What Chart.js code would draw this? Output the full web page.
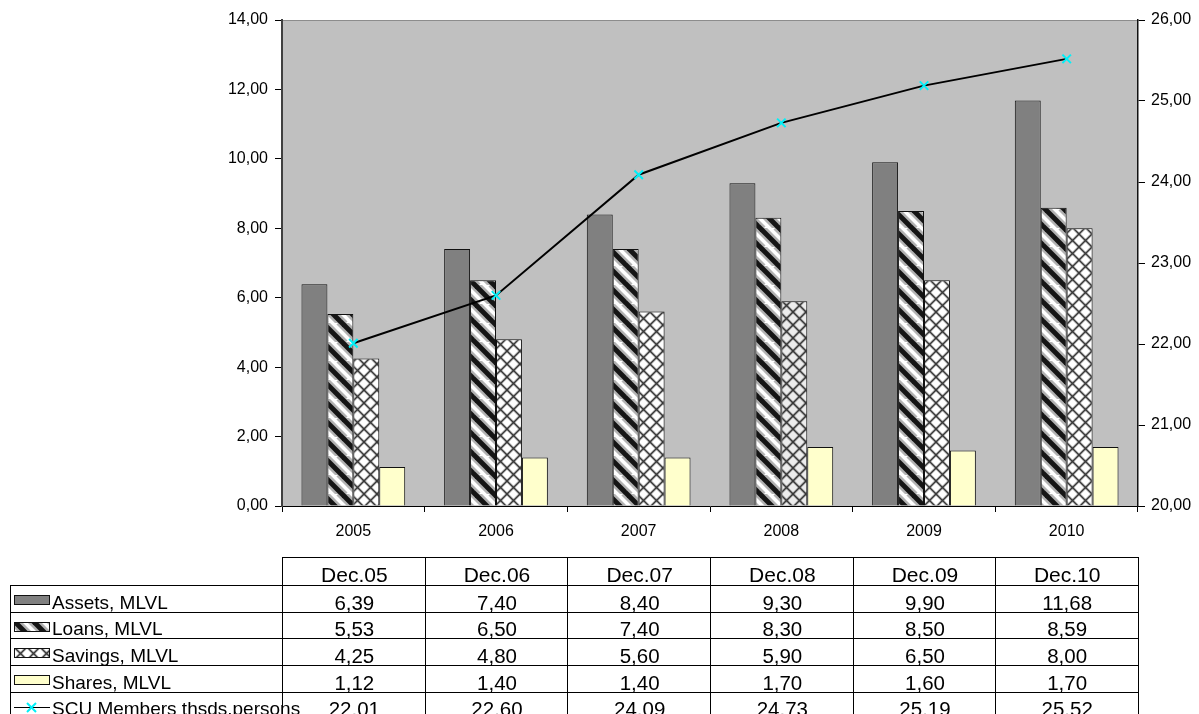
<!DOCTYPE html>
<html>
<head>
<meta charset="utf-8">
<script src="https://cdn.jsdelivr.net/npm/chart.js@4.4.1/dist/chart.umd.min.js"></script>
<style>
  html, body { margin: 0; padding: 0; background: #fff; }
  body { width: 1199px; height: 714px; overflow: hidden; position: relative;
         font-family: 'Liberation Sans', Arial, sans-serif; }
  #wrap { position: absolute; left: 0; top: 0; width: 1199px; height: 550px; }
  #table { position: absolute; left: 0; top: 0; width: 1199px; height: 714px; }
  .cell { position: absolute; box-sizing: border-box; border-left: 1px solid #000; border-top: 1px solid #000;
          display: flex; align-items: flex-end; justify-content: center;
          font-size: 20.5px; line-height: 20px; color: #000; white-space: nowrap; }
  .cell.last { border-right: 1px solid #000; }
  .cell.head { font-size: 21px; }
  .label { justify-content: flex-start; font-size: 19px; }
  .swatch { position: absolute; left: 3px; }
  .label span { position: absolute; left: 41px; bottom: 0; }
</style>
</head>
<body>
<div id="wrap"><canvas id="c" width="1199" height="550"></canvas></div>
<div id="table"></div>
<script>
// ---- data ----
const categories   = ['2005', '2006', '2007', '2008', '2009', '2010'];
const periodLabels = ['Dec.05', 'Dec.06', 'Dec.07', 'Dec.08', 'Dec.09', 'Dec.10'];
const seriesNames  = ['Assets, MLVL', 'Loans, MLVL', 'Savings, MLVL', 'Shares, MLVL', 'SCU Members thsds.persons'];
const assets   = [6.39, 7.40, 8.40, 9.30, 9.90, 11.68];
const loans    = [5.53, 6.50, 7.40, 8.30, 8.50, 8.59];
const savings  = [4.25, 4.80, 5.60, 5.90, 6.50, 8.00];
const shares   = [1.12, 1.40, 1.40, 1.70, 1.60, 1.70];
const members  = [22.01, 22.60, 24.09, 24.73, 25.19, 25.52];
const leftAxis  = { min: 0,  max: 14, step: 2 };
const rightAxis = { min: 20, max: 26, step: 1 };

const FONT = "'Liberation Sans', Arial, sans-serif";
const commaFmt = v => Number(v).toFixed(2).replace('.', ',');
const dotFmt   = v => Number(v).toFixed(2);

// ---- fill patterns ----
function makeTile(size, draw) {
  const t = document.createElement('canvas');
  t.width = t.height = size;
  draw(t.getContext('2d'), size);
  return t;
}
// wide downward diagonal stripes
function stripeTile(P) {
  return makeTile(P, (g) => {
    g.fillStyle = '#fff'; g.fillRect(0, 0, P, P);
    for (const [w, c] of [[10, 'rgba(0,0,0,0.3)'], [5, '#151515']]) {
      g.strokeStyle = c; g.lineWidth = w;
      for (const o of [-P, 0, P]) {
        g.beginPath(); g.moveTo(o - 2, -2); g.lineTo(o + P + 2, P + 2); g.stroke();
      }
    }
  });
}
// diagonal crosshatch
function crossTile(P, bg) {
  return makeTile(P, (g) => {
    g.fillStyle = bg; g.fillRect(0, 0, P, P);
    for (const [w, c] of [[3, 'rgba(0,0,0,0.22)'], [1.3, '#383838']]) {
      g.strokeStyle = c; g.lineWidth = w;
      for (const o of [-P, 0, P]) {
        g.beginPath(); g.moveTo(o - 2, -2); g.lineTo(o + P + 2, P + 2); g.stroke();
        g.beginPath(); g.moveTo(o + P + 2, -2); g.lineTo(o - 2, P + 2); g.stroke();
      }
    }
  });
}
const canvas = document.getElementById('c');
const ctx = canvas.getContext('2d');
const stripeT = stripeTile(19);
const crossT = crossTile(13, '#fff');
const crossLightT = crossTile(13, '#ececec');
const stripePat = ctx.createPattern(stripeT, 'repeat');
const crossPat = ctx.createPattern(crossT, 'repeat');
const crossLightPat = ctx.createPattern(crossLightT, 'repeat');
const savingsFills = categories.map((c, i) => i === 3 ? crossLightPat : crossPat);

// grey plot area with a thin frame on top
const plotBg = {
  id: 'plotBg',
  beforeDraw(chart) {
    const { ctx, chartArea: a } = chart;
    ctx.save();
    ctx.fillStyle = '#c0c0c0';
    ctx.fillRect(a.left, a.top, a.right - a.left, a.bottom - a.top);
    ctx.strokeStyle = '#8c8c8c'; ctx.lineWidth = 1;
    ctx.beginPath(); ctx.moveTo(a.left, a.top + 0.5); ctx.lineTo(a.right, a.top + 0.5); ctx.stroke();
    ctx.restore();
  }
};

const tickFont = { family: FONT, size: 16 };

const chart = new Chart(ctx, {
  type: 'bar',
  data: {
    labels: categories,
    datasets: [
      { label: seriesNames[0], data: assets,  backgroundColor: '#808080', borderColor: '#111', borderWidth: 1, yAxisID: 'y', order: 1 },
      { label: seriesNames[1], data: loans,   backgroundColor: stripePat, borderColor: '#111', borderWidth: 1, yAxisID: 'y', order: 1 },
      { label: seriesNames[2], data: savings, backgroundColor: savingsFills, borderColor: '#111', borderWidth: 1, yAxisID: 'y', order: 1 },
      { label: seriesNames[3], data: shares,  backgroundColor: '#ffffcc', borderColor: '#111', borderWidth: 1, yAxisID: 'y', order: 1 },
      { type: 'line', label: seriesNames[4], data: members, yAxisID: 'y1', order: 0,
        borderColor: '#000', borderWidth: 2, tension: 0, fill: false,
        pointStyle: 'crossRot', pointRadius: 6, pointBorderWidth: 2,
        pointBorderColor: '#00f0f8', pointBackgroundColor: '#00f0f8' }
    ]
  },
  options: {
    responsive: false,
    animation: false,
    devicePixelRatio: 1,
    layout: { padding: { top: 20, left: 0, right: 0, bottom: 0 } },
    datasets: { bar: { categoryPercentage: 0.727, barPercentage: 1.0 } },
    plugins: { legend: { display: false }, tooltip: { enabled: false } },
    scales: {
      x: {
        offset: true,
        grid: { offset: true, drawOnChartArea: false, tickLength: 6, color: '#000' },
        border: { color: '#000', width: 1 },
        ticks: { font: tickFont, color: '#000', padding: 10, maxRotation: 0 },
        afterFit(s) { s.height = 44; }
      },
      y: {
        position: 'left', min: leftAxis.min, max: leftAxis.max,
        ticks: { stepSize: leftAxis.step, callback: v => commaFmt(v), font: tickFont, color: '#000', padding: 7 },
        grid: { drawOnChartArea: false, tickLength: 7, color: '#000' },
        border: { color: '#404040', width: 2 },
        afterFit(s) { s.width = 282; }
      },
      y1: {
        position: 'right', min: rightAxis.min, max: rightAxis.max,
        ticks: { stepSize: rightAxis.step, callback: v => commaFmt(v), font: tickFont, color: '#000', padding: 6 },
        grid: { drawOnChartArea: false, tickLength: 7, color: '#000' },
        border: { color: '#111', width: 1.5 },
        afterFit(s) { s.width = 61; }
      }
    }
  },
  plugins: [plotBg]
});

// ---- data table under the chart, aligned to the category scale ----
function swatchCanvas(kind) {
  const c = document.createElement('canvas');
  c.width = 36; c.height = 12;
  const g = c.getContext('2d');
  if (kind === 4) {
    g.strokeStyle = '#000'; g.lineWidth = 1.2;
    g.beginPath(); g.moveTo(0, 6.5); g.lineTo(36, 6.5); g.stroke();
    g.strokeStyle = '#00f0f8'; g.lineWidth = 2;
    g.beginPath(); g.moveTo(13, 2); g.lineTo(22, 11); g.moveTo(22, 2); g.lineTo(13, 11); g.stroke();
    return c;
  }
  const fills = ['#808080', g.createPattern(stripeT, 'repeat'), g.createPattern(crossT, 'repeat'), '#ffffcc'];
  g.fillStyle = fills[kind];
  g.fillRect(1, 2, 34, 8);
  g.strokeStyle = '#111'; g.lineWidth = 1;
  g.strokeRect(0.5, 1.5, 35, 9);
  return c;
}

function buildTable() {
  const xs = chart.scales.x;
  const left = xs.left, colW = (xs.right - xs.left) / categories.length;
  const host = document.getElementById('table');
  const headerTop = 557, headerH = 28, rowH = 26.7, labelLeft = 10;
  const rows = [
    assets.map(commaFmt), loans.map(commaFmt), savings.map(commaFmt),
    shares.map(commaFmt), members.map(dotFmt)
  ];
  const add = (x, y, w, h, cls) => {
    const d = document.createElement('div');
    d.className = 'cell ' + (cls || '');
    Object.assign(d.style, { left: x + 'px', top: y + 'px', width: w + 'px', height: h + 'px' });
    host.appendChild(d);
    return d;
  };
  periodLabels.forEach((p, i) => {
    const d = add(left + i * colW, headerTop, colW + 1, headerH, 'head' + (i === periodLabels.length - 1 ? ' last' : ''));
    d.textContent = p;
  });
  rows.forEach((vals, r) => {
    const top = headerTop + headerH + r * rowH;
    const lab = add(labelLeft, top, left - labelLeft, rowH + 1, 'label');
    const sw = swatchCanvas(r);
    sw.className = 'swatch';
    sw.style.top = '8px';
    lab.appendChild(sw);
    const sp = document.createElement('span');
    sp.textContent = seriesNames[r];
    lab.appendChild(sp);
    vals.forEach((v, i) => {
      const d = add(left + i * colW, top, colW + 1, rowH + 1, i === vals.length - 1 ? 'last' : '');
      d.textContent = v;
    });
  });
}
buildTable();
</script>
</body>
</html>
